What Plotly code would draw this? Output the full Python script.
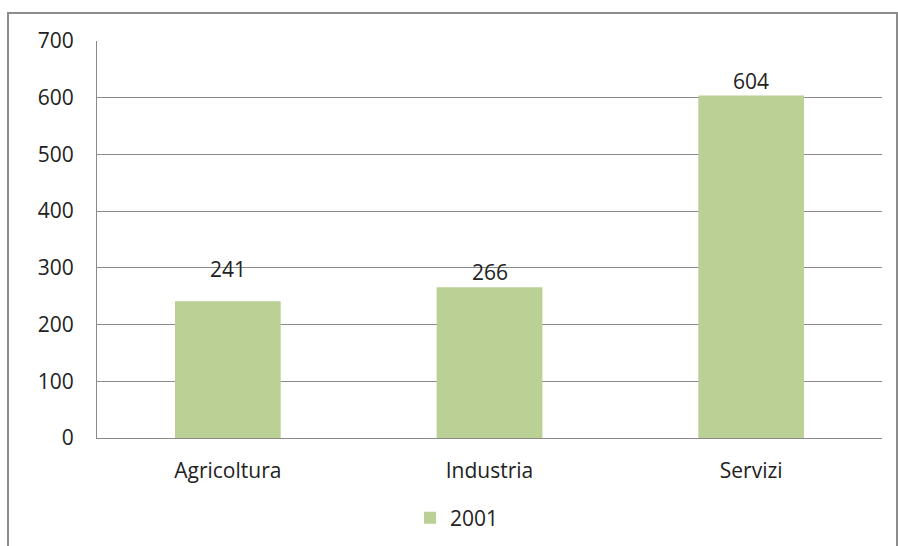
import plotly.graph_objects as go

# Occupati per settore (migliaia), anno 2001
categories = ["Agricoltura", "Industria", "Servizi"]
values_2001 = [241, 266, 604]
series_name = "2001"
y_ticks = [0, 100, 200, 300, 400, 500, 600, 700]

# canvas geometry (px)
W, H = 898, 546
L, R, T, B = 97, 16, 41, 108
plot_w = W - L - R
plot_h = H - T - B

# vertical offsets of the value labels above each bar (px)
label_shift = [32, 15, 14]

font_family = "Open Sans, Noto Sans, sans-serif"
font_size = 21
text_color = "#222222"
grid_color = "#8a8a8a"
bar_color = "#BAD094"

fig = go.Figure()
fig.add_trace(go.Bar(
    x=categories,
    y=values_2001,
    name=series_name,
    marker=dict(color=bar_color, line=dict(width=0)),
    width=0.404,
    showlegend=True,
))

for cat, v, dy in zip(categories, values_2001, label_shift):
    fig.add_annotation(
        x=cat, y=v, text=str(v), showarrow=False,
        yshift=dy, font=dict(family=font_family, size=font_size, color=text_color),
        xanchor="center", yanchor="middle",
    )


def px_to_paper_x(px):
    return (px - L) / plot_w


def px_to_paper_y(py):
    return (H - B - py) / plot_h


# outer chart border
fig.add_shape(
    type="rect", xref="paper", yref="paper",
    x0=px_to_paper_x(8), x1=px_to_paper_x(897),
    y0=px_to_paper_y(H + 20), y1=px_to_paper_y(13),
    line=dict(color="#8c8c8c", width=2), fillcolor="rgba(0,0,0,0)",
    layer="below",
)

fig.update_layout(
    width=W, height=H,
    margin=dict(l=L, r=R, t=T, b=B, pad=0, autoexpand=False),
    paper_bgcolor="white", plot_bgcolor="white",
    font=dict(family=font_family, size=font_size, color=text_color),
    bargap=0.596,
    showlegend=True,
    legend=dict(
        orientation="h", x=px_to_paper_x(457), y=px_to_paper_y(518),
        xanchor="center", yanchor="middle",
        font=dict(family=font_family, size=font_size, color=text_color),
        itemwidth=30, bgcolor="rgba(0,0,0,0)",
    ),
)

fig.update_yaxes(
    range=[0, 700], tickvals=y_ticks, ticktext=[str(t) for t in y_ticks],
    showgrid=True, gridcolor=grid_color, gridwidth=1,
    showline=True, linecolor=grid_color, linewidth=1,
    zeroline=False, ticks="", ticklabelstandoff=18, automargin=False,
    tickfont=dict(family=font_family, size=font_size, color=text_color),
    fixedrange=True,
)
fig.update_xaxes(
    showgrid=False, showline=True, linecolor=grid_color, linewidth=1,
    ticks="", ticklabelstandoff=14, automargin=False,
    tickfont=dict(family=font_family, size=font_size, color=text_color),
    fixedrange=True,
)

fig.write_html("out.html")
